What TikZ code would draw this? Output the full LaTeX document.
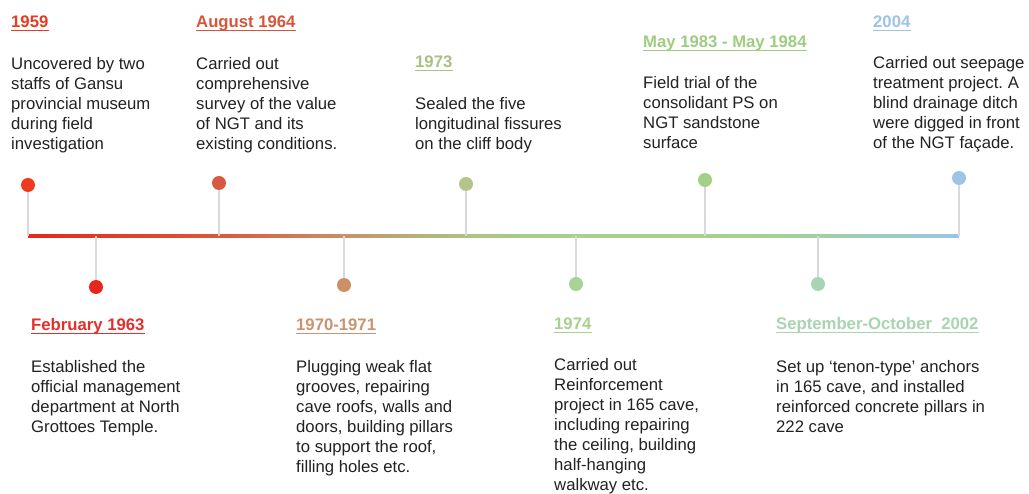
\documentclass[tikz,border=0pt]{standalone}
\usepackage{fontspec}
\setmainfont{Liberation Sans}
\frenchspacing
\definecolor{txt}{HTML}{222222}
\definecolor{stemc}{HTML}{D9D9D9}
\definecolor{hA}{HTML}{EA3B22}\definecolor{dA}{HTML}{EE3A1E}
\definecolor{hB}{HTML}{E3302B}\definecolor{dB}{HTML}{E8261C}
\definecolor{hC}{HTML}{D9553A}\definecolor{dC}{HTML}{D65A3F}
\definecolor{hD}{HTML}{CB9470}\definecolor{dD}{HTML}{CC8F66}
\definecolor{hE}{HTML}{ABC081}\definecolor{dE}{HTML}{B2C68C}
\definecolor{hF}{HTML}{A7D18F}\definecolor{dF}{HTML}{A9D394}
\definecolor{hG}{HTML}{9FCC80}\definecolor{dG}{HTML}{A3CF88}
\definecolor{hH}{HTML}{A8D4B2}\definecolor{dH}{HTML}{A6D4B5}
\definecolor{hI}{HTML}{9DC3E6}\definecolor{dI}{HTML}{9DC3E6}
\definecolor{g0}{HTML}{E8261C}
\definecolor{g1}{HTML}{D9583E}
\definecolor{g2}{HTML}{C89068}
\definecolor{g3}{HTML}{ACC383}
\definecolor{g4}{HTML}{A8D08E}
\definecolor{g5}{HTML}{A6D18A}
\definecolor{g6}{HTML}{A3CFA2}
\definecolor{g7}{HTML}{9DC3E6}
\pgfdeclarehorizontalshading{tlshade}{100bp}{color(0bp)=(g0); color(25bp)=(g0); color(35.26bp)=(g1); color(41.97bp)=(g2); color(48.52bp)=(g3); color(54.43bp)=(g4); color(61.36bp)=(g5); color(67.43bp)=(g6); color(75bp)=(g7); color(100bp)=(g7)}
\begin{document}
\begin{tikzpicture}[x=1pt,y=-1pt,
  head/.style={anchor=base west, inner sep=0pt, font=\fontsize{16.7}{20}\selectfont\bfseries},
  body/.style={anchor=north west, inner sep=0pt, align=left, text=txt, font=\fontsize{16.7}{20}\selectfont},
  dot/.style={circle, inner sep=0pt, minimum size=14pt, draw=none},
  stem/.style={draw=stemc, line width=1.3pt},
  uline/.style={line width=1.2pt}]
\useasboundingbox[fill=white] (0,0) rectangle (1029,494);

% timeline
\shade[shading=tlshade] (28,234.5) rectangle (959,237.8);

% coordinates on timeline
\coordinate (t1) at (28,236);
\coordinate (t2) at (96,236);
\coordinate (t3) at (219,236);
\coordinate (t4) at (344,236);
\coordinate (t5) at (466,236);
\coordinate (t6) at (576,236);
\coordinate (t7) at (705,236);
\coordinate (t8) at (818,236);
\coordinate (t9) at (959,236);

% dots
\node[dot, fill=dA] (p1) at (28,185) {};
\node[dot, fill=dB] (p2) at (96,287) {};
\node[dot, fill=dC] (p3) at (219,183) {};
\node[dot, fill=dD] (p4) at (344,285) {};
\node[dot, fill=dE] (p5) at (466,184) {};
\node[dot, fill=dF] (p6) at (576,284) {};
\node[dot, fill=dG] (p7) at (705,180) {};
\node[dot, fill=dH] (p8) at (818,284) {};
\node[dot, fill=dI] (p9) at (959,178) {};

% stems
\foreach \i in {1,...,9} { \draw[stem] (p\i) -- (t\i); }

% headings
\node[head, text=hA] (h1) at (11,28) {1959};
\node[head, text=hB] (h2) at (31,331) {February 1963};
\node[head, text=hC] (h3) at (196,28) {August 1964};
\node[head, text=hD] (h4) at (296,331) {1970-1971};
\node[head, text=hE] (h5) at (415,68) {1973};
\node[head, text=hF] (h6) at (554,330) {1974};
\node[head, text=hG] (h7) at (643,48) {May 1983 - May 1984};
\node[head, text=hH] (h8) at (776,330) {September-October\ \ 2002};
\node[head, text=hI] (h9) at (873,28) {2004};

% underlines
\draw[uline, draw=hA] ([yshift=-2.6pt]h1.base west) -- ([yshift=-2.6pt]h1.base east);
\draw[uline, draw=hB] ([yshift=-2.6pt]h2.base west) -- ([yshift=-2.6pt]h2.base east);
\draw[uline, draw=hC] ([yshift=-2.6pt]h3.base west) -- ([yshift=-2.6pt]h3.base east);
\draw[uline, draw=hD] ([yshift=-2.6pt]h4.base west) -- ([yshift=-2.6pt]h4.base east);
\draw[uline, draw=hE] ([yshift=-2.6pt]h5.base west) -- ([yshift=-2.6pt]h5.base east);
\draw[uline, draw=hF] ([yshift=-2.6pt]h6.base west) -- ([yshift=-2.6pt]h6.base east);
\draw[uline, draw=hG] ([yshift=-2.6pt]h7.base west) -- ([yshift=-2.6pt]h7.base east);
\draw[uline, draw=hH] ([yshift=-2.6pt]h8.base west) -- ([yshift=-2.6pt]h8.base east);
\draw[uline, draw=hI] ([yshift=-2.6pt]h9.base west) -- ([yshift=-2.6pt]h9.base east);

% bodies (north = first baseline - 14)
\node[body] (b1) at (11,55) {\strut Uncovered by two\\staffs of Gansu\\provincial museum\\during field\\investigation};
\node[body] (b2) at (31,358) {\strut Established the\\official management\\department at North\\Grottoes Temple.};
\node[body] (b3) at (196,55) {\strut Carried out\\comprehensive\\survey of the value\\of NGT and its\\existing conditions.};
\node[body] (b4) at (296,358) {\strut Plugging weak flat\\grooves, repairing\\cave roofs, walls and\\doors, building pillars\\to support the roof,\\filling holes etc.};
\node[body] (b5) at (415,95) {\strut Sealed the five\\longitudinal fissures\\on the cliff body};
\node[body] (b6) at (554,356) {\strut Carried out\\Reinforcement\\project in 165 cave,\\including repairing\\the ceiling, building\\half-hanging\\walkway etc.};
\node[body] (b7) at (643,74) {\strut Field trial of the\\consolidant PS on\\NGT sandstone\\surface};
\node[body] (b8) at (776,358) {\strut Set up ‘tenon-type’ anchors\\in 165 cave, and installed\\reinforced concrete pillars in\\222 cave};
\node[body] (b9) at (873,54) {\strut Carried out seepage\\treatment project. A\\blind drainage ditch\\were digged in front\\of the NGT façade.};
\end{tikzpicture}
\end{document}
